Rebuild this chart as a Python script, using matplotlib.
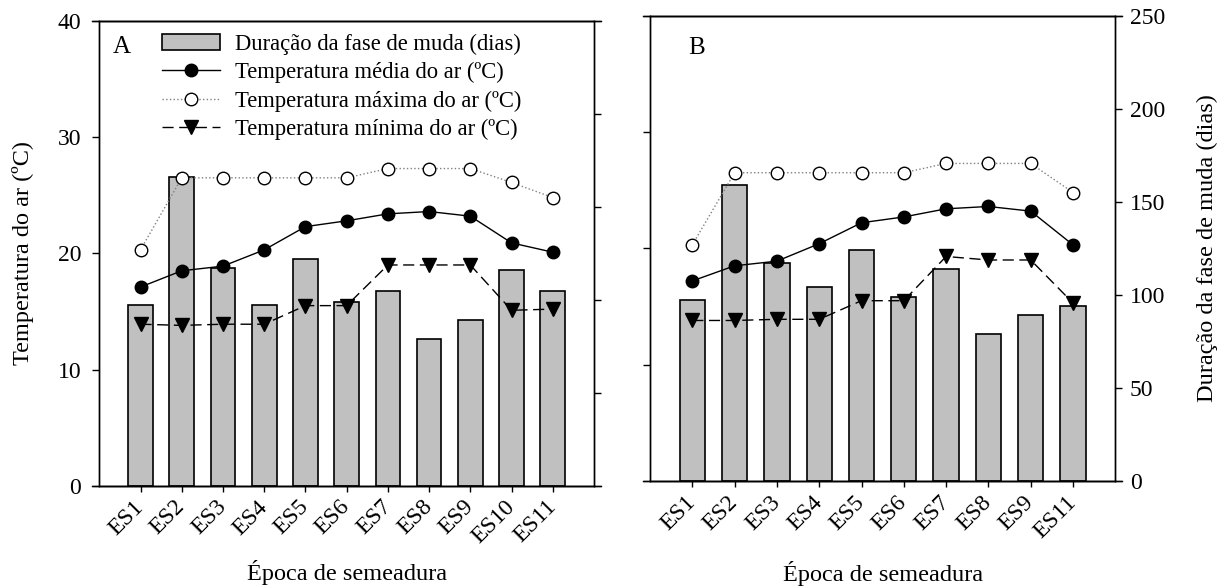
import matplotlib.pyplot as plt
from matplotlib.lines import Line2D
from matplotlib.patches import Patch
import numpy as np

plt.rcParams['font.family'] = ['Liberation Serif', 'DejaVu Serif']

# painel A
epocas_a = ['ES1', 'ES2', 'ES3', 'ES4', 'ES5', 'ES6', 'ES7', 'ES8', 'ES9', 'ES10', 'ES11']
duracao_a = [97, 166, 117, 97, 122, 99, 105, 79, 89, 116, 105]
tmed_a = [17.1, 18.5, 18.9, 20.3, 22.3, 22.8, 23.4, 23.6, 23.2, 20.9, 20.1]
tmax_a = [20.3, 26.5, 26.5, 26.5, 26.5, 26.5, 27.3, 27.3, 27.3, 26.1, 24.8]
tmin_a = [13.9, 13.8, 13.9, 13.9, 15.5, 15.5, 19.0, 19.0, 19.0, 15.1, 15.2]

# painel B
epocas_b = ['ES1', 'ES2', 'ES3', 'ES4', 'ES5', 'ES6', 'ES7', 'ES8', 'ES9', 'ES11']
duracao_b = [97, 159, 117, 104, 124, 99, 114, 79, 89, 94]
tmed_b = [17.2, 18.5, 18.9, 20.4, 22.2, 22.7, 23.4, 23.6, 23.2, 20.3]
tmax_b = [20.3, 26.5, 26.5, 26.5, 26.5, 26.5, 27.3, 27.3, 27.3, 24.8]
tmin_b = [13.8, 13.8, 13.9, 13.9, 15.5, 15.5, 19.3, 19.0, 19.0, 15.3]

W, H = 1230, 587
fig = plt.figure(figsize=(W / 100, H / 100), dpi=100)

FS_TICK = 17
FS_LAB = 17.5
MS = 9
TRACO = (0, (8, 4))


def painel(rect, epocas, duracao, tmed, tmax, tmin, letra, letra_xy, lado,
           xlab_y, legenda=False):
    ax = fig.add_axes(rect)
    ax2 = ax.twinx()
    ax.set_zorder(ax2.get_zorder() + 1)
    ax.patch.set_visible(False)

    x = np.arange(1, len(epocas) + 1)
    ax2.bar(x, duracao, width=0.6, color='#c0c0c0', edgecolor='black', linewidth=1.2)

    ax.plot(x, tmax, ls=':', color='#808080', lw=1, marker='o', ms=MS,
            mfc='white', mec='black', mew=1)
    ax.plot(x, tmed, ls='-', color='black', lw=1, marker='o', ms=MS,
            mfc='black', mec='black')
    ax.plot(x, tmin, ls=TRACO, color='black', lw=1, marker='v', ms=MS + 1,
            mfc='black', mec='black')

    ax.set_xlim(0, len(epocas) + 1)
    ax.set_ylim(0, 40)
    ax2.set_ylim(0, 250)
    ax.set_yticks([0, 10, 20, 30, 40])
    ax2.set_yticks(range(0, 251, 50))
    ax.set_xticks(x)
    ax.set_xticklabels(epocas, rotation=45, ha='right', va='center',
                       rotation_mode='anchor', fontsize=FS_TICK)

    for a in (ax, ax2):
        for s in a.spines.values():
            s.set_linewidth(1.0)
        a.tick_params(axis='y', direction='out', length=5, width=1, labelsize=FS_TICK)
    ax.tick_params(axis='y', pad=8)
    ax2.tick_params(axis='y', pad=5.5)
    ax.tick_params(axis='x', direction='out', length=4, width=1, pad=9)

    # linhas de topo e base prolongadas como no SigmaPlot
    d = 7 / (rect[2] * W)
    for yy in (0, 1):
        ax.add_line(Line2D([-d, 1 + d], [yy, yy], transform=ax.transAxes,
                           color='black', lw=1.0, clip_on=False))

    if lado == 'esq':
        ax2.tick_params(axis='y', labelright=False)
        ax.set_ylabel('Temperatura do ar (ºC)', fontsize=FS_LAB)
        ax.yaxis.label.set_va('center')
        ax.yaxis.set_label_coords(-0.154, 0.5)
    else:
        ax.tick_params(axis='y', labelleft=False)
        ax2.set_ylabel('Duração da fase de muda (dias)', fontsize=FS_LAB)
        ax2.yaxis.label.set_va('center')
        ax2.yaxis.set_label_coords(1.199, 0.5)

    ax.set_xlabel('Época de semeadura', fontsize=FS_LAB)
    ax.xaxis.label.set_va('center')
    ax.xaxis.set_label_coords(0.5, xlab_y)

    ax.text(letra_xy[0], letra_xy[1], letra, transform=ax.transAxes,
            fontsize=18, ha='center', va='center')

    if legenda:
        handles = [
            Patch(facecolor='#c0c0c0', edgecolor='black', linewidth=1.2),
            Line2D([], [], ls='-', color='black', lw=1, marker='o', ms=MS,
                   mfc='black', mec='black'),
            Line2D([], [], ls=':', color='#808080', lw=1, marker='o', ms=MS,
                   mfc='white', mec='black'),
            Line2D([], [], ls=TRACO, color='black', lw=1, marker='v', ms=MS + 1,
                   mfc='black', mec='black'),
        ]
        labels = ['Duração da fase de muda (dias)',
                  'Temperatura média do ar (ºC)',
                  'Temperatura máxima do ar (ºC)',
                  'Temperatura mínima do ar (ºC)']
        ax.legend(handles, labels, loc='upper left', bbox_to_anchor=(0.126, 0.972),
                  frameon=False, fontsize=16.3, borderpad=0, borderaxespad=0,
                  handlelength=2.6, handletextpad=0.66, labelspacing=0.31)
    return ax, ax2


painel([99.3 / W, 1 - 485.7 / H, 494.7 / W, 464.7 / H],
       epocas_a, duracao_a, tmed_a, tmax_a, tmin_a, 'A', (0.045, 0.945), 'esq',
       -0.186, legenda=True)
painel([650 / W, 1 - 481 / H, 465.3 / W, 465.3 / H],
       epocas_b, duracao_b, tmed_b, tmax_b, tmin_b, 'B', (0.101, 0.93), 'dir',
       -0.198)

fig.savefig('out.png', dpi=100)
